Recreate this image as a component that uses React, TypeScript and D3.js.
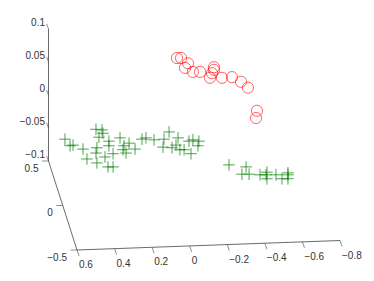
import React from "react";
import * as d3 from "d3";

// value along the long bottom axis and the vertical axis
const circleX = [0.068, 0.046, 0.009, 0.025, -0.017, -0.055, -0.129, -0.129, -0.119, -0.108, -0.172, -0.225, -0.273, -0.31, -0.358, -0.353];
const circleZ = [0.05, 0.05, 0.042, 0.035, 0.029, 0.029, 0.036, 0.032, 0.027, 0.02, 0.02, 0.021, 0.014, 0.005, -0.03, -0.041];

const crossX = [
  0.664, 0.637, 0.621, 0.568, 0.547, 0.499, 0.467, 0.483, 0.462, 0.494, 0.499, 0.494, 0.451, 0.435, 0.408, 0.43, 0.43,
  0.371, 0.408, 0.35, 0.355, 0.339, 0.323, 0.291, 0.254, 0.233, 0.19, 0.137, 0.11, 0.062, 0.142, 0.094, 0.073, 0.052,
  0.03, -0.007, 0.004, -0.017, -0.049, -0.044, -0.209, -0.3, -0.278, -0.316, -0.374, -0.411, -0.406, -0.411, -0.459,
  -0.491, -0.523, -0.523, -0.523,
];
const crossZ = [
  -0.073, -0.083, -0.082, -0.088, -0.103, -0.058, -0.059, -0.07, -0.064, -0.086, -0.094, -0.109, -0.1, -0.115, -0.115,
  -0.083, -0.076, -0.071, -0.095, -0.083, -0.089, -0.094, -0.079, -0.088, -0.073, -0.071, -0.074, -0.073, -0.062,
  -0.071, -0.085, -0.086, -0.082, -0.089, -0.089, -0.095, -0.076, -0.074, -0.076, -0.083, -0.112, -0.115, -0.126,
  -0.126, -0.127, -0.123, -0.127, -0.133, -0.127, -0.133, -0.124, -0.127, -0.133,
];

const xTicks = [0.6, 0.4, 0.2, 0, -0.2, -0.4, -0.6, -0.8];
const yTicks = [0.5, 0, -0.5];
const zTicks = [0.1, 0.05, 0, -0.05, -0.1];

const fmt = (t: number) => String(t).replace("-", "\u2212");

export default function App() {
  // projected axes of the 3d box
  const xPx = d3.scaleLinear().domain([0.6, -0.8]).range([77, 340]);
  const xPy = d3.scaleLinear().domain([0.6, -0.8]).range([250, 240.5]);
  const yPx = d3.scaleLinear().domain([0.5, -0.5]).range([48.5, 77]);
  const yPy = d3.scaleLinear().domain([0.5, -0.5]).range([161, 250]);
  const zPy = d3.scaleLinear().domain([0.1, -0.1]).range([29, 161]);
  // points sit a bit behind the z axis, so they get their own y
  const ptY = d3.scaleLinear().domain([0.1, -0.1]).range([25, 157]);

  const axisColor = "#444";
  const textColor = "#333";
  const crossSize = 5.8;

  const axisPath = d3.line()([
    [xPx(-0.8), xPy(-0.8)],
    [xPx(0.6), xPy(0.6)],
    [yPx(0.5), yPy(0.5)],
    [yPx(0.5), zPy(0.1)],
  ]) as string;

  return (
    <svg
      width={374}
      height={281}
      style={{ position: "absolute", left: 0, top: 0, background: "#fff" }}
      fontFamily="'Liberation Sans', Arial, sans-serif"
      fontSize={10}
      fill={textColor}
    >
      <path d={axisPath} fill="none" stroke={axisColor} strokeWidth={0.8} />

      {zTicks.map((t) => (
        <g key={t}>
          <line x1={46.7} x2={48.5} y1={zPy(t) - 5} y2={zPy(t)} stroke={axisColor} strokeWidth={0.6} />
          <text x={45} y={zPy(t) - 3.5} textAnchor="end">
            {fmt(t)}
          </text>
        </g>
      ))}

      {yTicks.map((t) => (
        <g key={t}>
          <line x1={yPx(t) - 6.5} x2={yPx(t)} y1={yPy(t)} y2={yPy(t)} stroke={axisColor} strokeWidth={0.6} />
          <text x={yPx(t) - 10} y={yPy(t) + 10.5} textAnchor="end">
            {fmt(t)}
          </text>
        </g>
      ))}

      {xTicks.map((t) => (
        <g key={t}>
          <line x1={xPx(t)} x2={xPx(t) + 2} y1={xPy(t)} y2={xPy(t) + 6} stroke={axisColor} strokeWidth={0.6} />
          <text x={xPx(t) + 2} y={xPy(t) + 18} textAnchor="start">
            {fmt(t)}
          </text>
        </g>
      ))}

      {circleX.map((d, i) => (
        <circle key={i} cx={xPx(d)} cy={ptY(circleZ[i])} r={5.6} fill="none" stroke="#ff0000" strokeWidth={0.6} />
      ))}

      {crossX.map((d, i) => {
        const cx = xPx(d);
        const cy = ptY(crossZ[i]);
        return (
          <path
            key={i}
            d={`M${cx - crossSize},${cy}H${cx + crossSize}M${cx},${cy - crossSize}V${cy + crossSize}`}
            fill="none"
            stroke="#007a00"
            strokeWidth={0.7}
          />
        );
      })}
    </svg>
  );
}
